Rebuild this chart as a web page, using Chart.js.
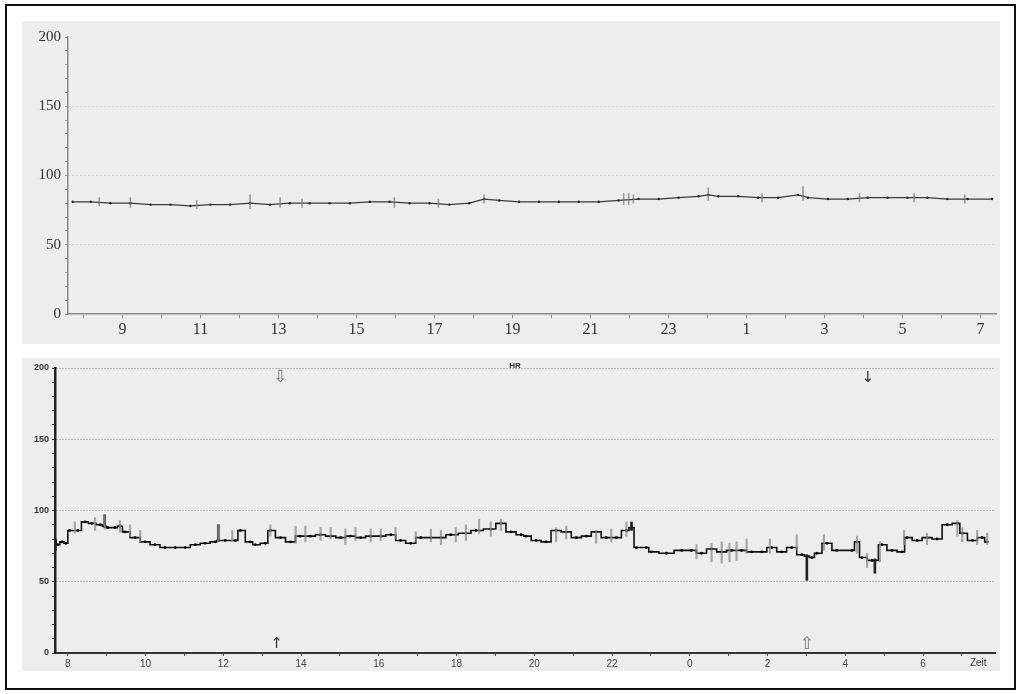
<!DOCTYPE html>
<html>
<head>
<meta charset="utf-8">
<script src="https://cdn.jsdelivr.net/npm/chart.js"></script>
<style>
  html, body { margin: 0; padding: 0; background: #fff; }
  body { width: 1024px; height: 694px; position: relative; overflow: hidden; }
  .frame { position: absolute; left: 5px; top: 4px; width: 1007px; height: 682px; border: 2px solid #111; }
  .panel { position: absolute; left: 22px; width: 978px; background: #ededed; }
  #pTop { top: 21px; height: 323px; }
  #pBot { top: 358px; height: 313px; }
  canvas { display: block; }
</style>
</head>
<body>
<div class="frame"></div>
<div class="panel" id="pTop"><canvas id="topChart" width="978" height="323"></canvas></div>
<div class="panel" id="pBot"><canvas id="botChart" width="978" height="313"></canvas></div>
<script>
// hours run on past midnight (24 = 0:00, 31 = 7:00)
var topHours = [7.72, 8.18, 8.69, 9.20, 9.72, 10.23, 10.74, 11.25, 11.76, 12.27, 12.78, 13.29, 13.80, 14.31, 14.83,
  15.34, 15.85, 16.36, 16.87, 17.38, 17.89, 18.27, 18.66, 19.17, 19.68, 20.19, 20.70, 21.21, 21.72, 22.23, 22.75,
  23.26, 23.77, 24.02, 24.28, 24.79, 25.30, 25.81, 26.32, 26.58, 27.09, 27.60, 28.11, 28.62, 29.13, 29.64, 30.15,
  30.67, 31.30];
var topHR = [81, 81, 80, 80, 79, 79, 78, 79, 79, 80, 79, 80, 80, 80, 80,
  81, 81, 80, 80, 79, 80, 83, 82, 81, 81, 81, 81, 81, 82, 83, 83,
  84, 85, 86, 85, 85, 84, 84, 86, 84, 83, 83, 84, 84, 84, 84, 83,
  83, 83];
var topSpikeHours = [8.40, 9.20, 10.90, 12.27, 13.04, 13.60, 15.97, 17.10, 18.27, 21.85, 21.98, 22.10, 24.02, 25.40, 26.45, 27.90, 29.30, 30.60];
var topSpikeLo = [78, 77, 76, 76, 77, 77, 77, 77, 80, 79, 79, 80, 82, 81, 82, 81, 81, 80];
var topSpikeHi = [84, 84, 82, 86, 84, 83, 84, 83, 86, 87, 87, 86, 91, 87, 92, 87, 87, 86];

var botHours = [7.66, 7.74, 7.85, 7.95, 8.05, 8.26, 8.44, 8.62, 8.83, 8.95, 9.03, 9.21, 9.34, 9.47, 9.73, 9.99,
  10.24, 10.50, 10.76, 11.02, 11.28, 11.53, 11.79, 11.87, 12.05, 12.31, 12.44, 12.69, 12.82, 13.08, 13.21, 13.47,
  13.73, 13.98, 14.24, 14.50, 14.76, 15.02, 15.27, 15.53, 15.79, 16.05, 16.31, 16.56, 16.82, 17.08, 17.34, 17.60,
  17.85, 18.24, 18.50, 18.88, 19.14, 19.40, 19.66, 19.79, 20.05, 20.30, 20.56, 20.82, 21.08, 21.34, 21.59, 21.85,
  22.11, 22.37, 22.50, 22.63, 22.88, 23.01, 23.40, 23.79, 24.04, 24.30, 24.56, 24.82, 25.07, 25.33, 25.59, 25.85,
  26.11, 26.36, 26.62, 26.88, 27.01, 27.14, 27.27, 27.53, 27.78, 28.17, 28.30, 28.43, 28.69, 28.76, 28.94, 29.20,
  29.46, 29.59, 29.85, 30.10, 30.36, 30.62, 30.88, 31.01, 31.27, 31.52, 31.65];
var botHR = [79, 76, 78, 77, 86, 86, 92, 91, 90, 89, 88, 88, 89, 85, 81, 78,
  76, 74, 74, 74, 76, 77, 78, 79, 79, 79, 86, 78, 76, 77, 86, 81,
  78, 82, 82, 83, 82, 81, 82, 81, 82, 82, 83, 79, 77, 81, 81, 81,
  83, 84, 86, 87, 91, 85, 83, 82, 79, 78, 86, 85, 81, 82, 85, 81,
  81, 86, 88, 74, 74, 71, 70, 72, 72, 70, 73, 71, 72, 72, 71, 71,
  74, 71, 74, 69, 68, 67, 70, 77, 72, 72, 78, 67, 65, 65, 76, 72,
  71, 81, 79, 81, 80, 90, 91, 84, 79, 81, 78];
// light grey excursions around the trace
var botSpikeHours = [8.18, 8.70, 8.95, 9.34, 9.60, 9.86, 11.87, 12.23, 13.21, 13.86, 14.11, 14.50, 14.76, 15.14,
  15.40, 15.79, 16.05, 16.43, 16.95, 17.34, 17.60, 17.98, 18.24, 18.58, 18.88, 19.14, 20.56, 20.82, 21.59, 21.98,
  22.37, 24.17, 24.56, 24.82, 25.02, 25.20, 25.46, 26.06, 26.75, 27.45, 28.30, 28.56, 28.89, 29.51, 30.10, 30.88,
  31.01, 31.39, 31.65];
var botSpikeLo = [84, 86, 87, 85, 82, 78, 78, 78, 82, 77, 78, 79, 80, 76,
  79, 78, 79, 80, 78, 78, 76, 78, 79, 84, 82, 86, 78, 80, 77, 78,
  82, 66, 64, 63, 64, 65, 70, 70, 72, 72, 70, 60, 64, 76, 76, 82,
  78, 76, 76];
var botSpikeHi = [92, 95, 97, 93, 90, 86, 90, 86, 90, 89, 89, 88, 88, 87,
  88, 87, 87, 88, 85, 87, 86, 88, 90, 94, 92, 94, 88, 89, 86, 87,
  92, 76, 77, 78, 77, 78, 80, 80, 83, 83, 82, 70, 78, 86, 84, 93,
  88, 86, 84];
// dark short excursions of the trace itself
var botDarkHours = [7.68, 8.95, 11.87, 22.50, 27.01, 28.76];
var botDarkLo = [72, 88, 79, 86, 51, 56];
var botDarkHi = [80, 97, 90, 92, 69, 66];

var topTicks = [8, 9, 10, 11, 12, 13, 14, 15, 16, 17, 18, 19, 20, 21, 22, 23, 24, 25, 26, 27, 28, 29, 30, 31];
var botTicks = [8, 9, 10, 11, 12, 13, 14, 15, 16, 17, 18, 19, 20, 21, 22, 23, 24, 25, 26, 27, 28, 29, 30, 31];
var yTicks = [0, 10, 20, 30, 40, 50, 60, 70, 80, 90, 100, 110, 120, 130, 140, 150, 160, 170, 180, 190, 200];

// event markers on the lower trace: hour, value, glyph
var markHours = [13.47, 13.37, 28.58, 27.01];
var markVals = [193, 6, 193, 6];
var markGlyphs = ["\u21E9", "\u2191", "\u2193", "\u21E7"];

function pts(xs, ys) {
  return xs.map(function (x, i) { return { x: x, y: ys[i] }; });
}
function bars(xs, lo, hi) {
  return xs.map(function (x, i) { return { x: x, y: [lo[i], hi[i]] }; });
}
function clock(v) {
  return Math.round(v) % 24;
}

new Chart(document.getElementById("topChart"), {
  data: {
    datasets: [
      {
        type: "bar",
        data: bars(topSpikeHours, topSpikeLo, topSpikeHi),
        backgroundColor: "rgba(120,120,120,.7)",
        barThickness: 1,
        grouped: false,
      },
      {
        type: "line",
        data: pts(topHours, topHR),
        borderColor: "#3a3a3a",
        borderWidth: 1.3,
        pointRadius: 1.2,
        pointBackgroundColor: "#222",
        pointBorderWidth: 0,
        tension: 0,
      },
    ],
  },
  options: {
    responsive: false,
    animation: false,
    events: [],
    layout: { padding: { left: 0, right: 2, top: 16, bottom: 0 } },
    plugins: { legend: { display: false }, tooltip: { enabled: false } },
    scales: {
      x: {
        type: "linear",
        offset: false,
        min: 7.6,
        max: 31.4,
        afterBuildTicks: function (s) {
          s.ticks = topTicks.map(function (v) { return { value: v }; });
        },
        afterFit: function (s) { s.height = 30; },
        border: { color: "#8a8a8a", width: 1.5 },
        grid: { offset: false, drawOnChartArea: false, tickLength: 4, tickColor: "#888" },
        ticks: {
          autoSkip: false,
          maxRotation: 0,
          padding: 2,
          color: "#333",
          font: { family: "Liberation Serif", size: 16 },
          callback: function (v) {
            var c = clock(v);
            return c % 2 === 1 ? String(c) : "";
          },
        },
      },
      y: {
        min: 0,
        max: 200,
        afterBuildTicks: function (s) {
          s.ticks = yTicks.map(function (v) { return { value: v }; });
        },
        afterFit: function (s) { s.width = 46; },
        border: { color: "#8a8a8a", width: 1.5, dash: [1, 3] },
        grid: {
          color: function (c) {
            var v = c.tick && c.tick.value;
            return v % 50 === 0 && v > 0 && v < 200 ? "rgba(90,90,90,.35)" : "transparent";
          },
          tickLength: 3,
          tickColor: "#999",
        },
        ticks: {
          autoSkip: false,
          padding: 4,
          color: "#333",
          font: { family: "Liberation Serif", size: 15 },
          callback: function (v) { return v % 50 === 0 ? String(v) : ""; },
        },
      },
    },
  },
});

var botDecor = {
  id: "botDecor",
  afterDatasetsDraw: function (chart) {
    var ctx = chart.ctx;
    var xs = chart.scales.x;
    var ys = chart.scales.y;
    var a = chart.chartArea;
    ctx.save();
    ctx.textAlign = "center";
    ctx.textBaseline = "middle";
    markHours.forEach(function (h, i) {
      var hollow = markGlyphs[i] === "\u21E9" || markGlyphs[i] === "\u21E7";
      ctx.fillStyle = hollow ? "#777" : "#333";
      ctx.font = (hollow ? "17px" : "15px") + " DejaVu Sans";
      ctx.fillText(markGlyphs[i], xs.getPixelForValue(h), ys.getPixelForValue(markVals[i]));
    });
    ctx.fillStyle = "#333";
    ctx.font = "bold 8px Liberation Sans";
    ctx.fillText("HR", (a.left + a.right) / 2 - 10, a.top - 2);
    ctx.font = "10px Liberation Sans";
    ctx.textBaseline = "top";
    ctx.fillText("Zeit", xs.getPixelForValue(31.42), a.bottom + 5);
    ctx.restore();
  },
};

new Chart(document.getElementById("botChart"), {
  data: {
    datasets: [
      {
        type: "bar",
        data: bars(botSpikeHours, botSpikeLo, botSpikeHi),
        backgroundColor: "rgba(140,140,140,.75)",
        barThickness: 1.5,
        grouped: false,
      },
      {
        type: "bar",
        data: bars(botDarkHours, botDarkLo, botDarkHi),
        backgroundColor: "#222",
        barThickness: 2,
        grouped: false,
      },
      {
        type: "line",
        data: pts(botHours, botHR),
        borderColor: "#111",
        borderWidth: 1.6,
        pointRadius: 1.4,
        pointBackgroundColor: "#000",
        pointBorderWidth: 0,
        stepped: "middle",
      },
    ],
  },
  plugins: [botDecor],
  options: {
    responsive: false,
    animation: false,
    events: [],
    layout: { padding: { left: 0, right: 5, top: 10, bottom: 0 } },
    plugins: { legend: { display: false }, tooltip: { enabled: false } },
    scales: {
      x: {
        type: "linear",
        offset: false,
        min: 7.67,
        max: 31.85,
        afterBuildTicks: function (s) {
          s.ticks = botTicks.map(function (v) { return { value: v }; });
        },
        afterFit: function (s) { s.height = 18; },
        border: { color: "#333", width: 2 },
        grid: { offset: false, drawOnChartArea: false, tickLength: 3, tickColor: "#555" },
        ticks: {
          autoSkip: false,
          maxRotation: 0,
          padding: 2,
          color: "#444",
          font: { family: "Liberation Sans", size: 10 },
          callback: function (v) {
            var c = clock(v);
            return c % 2 === 0 && v < 31 ? String(c) : "";
          },
        },
      },
      y: {
        min: 0,
        max: 200,
        afterBuildTicks: function (s) {
          s.ticks = yTicks.map(function (v) { return { value: v }; });
        },
        afterFit: function (s) { s.width = 33; },
        border: { color: "#222", width: 2.5, dash: [1, 2] },
        grid: {
          color: function (c) {
            var v = c.tick && c.tick.value;
            return v % 50 === 0 && v > 0 ? "rgba(60,60,60,.6)" : "transparent";
          },
          tickLength: 3,
          tickColor: "#444",
        },
        ticks: {
          autoSkip: false,
          padding: 3,
          color: "#333",
          font: { family: "Liberation Sans", size: 9, weight: "bold" },
          callback: function (v) { return v % 50 === 0 ? String(v) : ""; },
        },
      },
    },
  },
});
</script>
</body>
</html>
